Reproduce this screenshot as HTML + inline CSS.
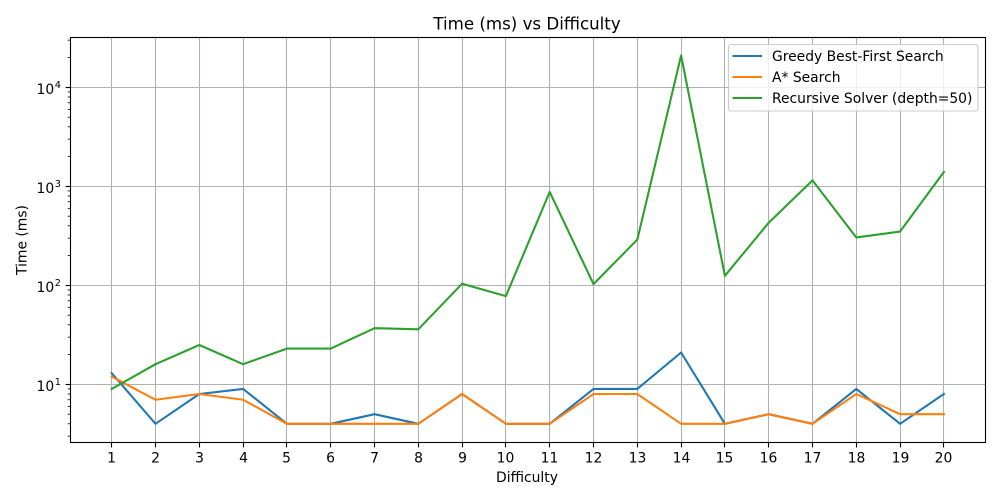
<!DOCTYPE html>
<html lang="en">
<head>
<meta charset="utf-8">
<title>Time (ms) vs Difficulty</title>
<style>
html,body{margin:0;padding:0;background:#fff;width:1000px;height:500px;overflow:hidden}
svg{display:block}
text{font-family:"DejaVu Sans",sans-serif;fill:#000}
</style>
</head>
<body>
<svg id="chart" xmlns="http://www.w3.org/2000/svg" width="1000" height="500" viewBox="0 0 1000 500">
  <rect x="0" y="0" width="1000" height="500" fill="#fff"/>
  <g id="grid"></g>
  <g id="series"></g>
  <g id="ticks"></g>
  <rect x="70.5" y="37.5" width="915" height="405" fill="none" stroke="#000" stroke-width="1.1"/>
  <text x="527" y="29.5" font-size="16.67" text-anchor="middle">Time (ms) vs Difficulty</text>
  <text x="527" y="482" font-size="13.89" text-anchor="middle">Difficulty</text>
  <text x="0" y="0" font-size="13.89" text-anchor="middle" transform="translate(26.5 240) rotate(-90)">Time (ms)</text>
  <g>
    <rect x="728.5" y="44.5" width="249.5" height="66.5" rx="2.8" ry="2.8" fill="#fff" fill-opacity="0.8" stroke="#ccc" stroke-width="1.1"/>
    <line x1="732.5" x2="762" y1="56" y2="56" stroke="#1f77b4" stroke-width="2.08"/>
    <text x="772" y="61" font-size="13.89">Greedy Best-First Search</text>
    <line x1="732.5" x2="762" y1="77" y2="77" stroke="#ff7f0e" stroke-width="2.08"/>
    <text x="772" y="82" font-size="13.89">A* Search</text>
    <line x1="732.5" x2="762" y1="98" y2="98" stroke="#2ca02c" stroke-width="2.08"/>
    <text x="772" y="103" font-size="13.89">Recursive Solver (depth=50)</text>
  </g>
</svg>
<script>
const difficulties = [1,2,3,4,5,6,7,8,9,10,11,12,13,14,15,16,17,18,19,20];
const greedyTimes = [13,4,8,9,4,4,5,4,8,4,4,9,9,21,4,5,4,9,4,8];
const astarTimes = [12,7,8,7,4,4,4,4,8,4,4,8,8,4,4,5,4,8,5,5];
const recursiveTimes = [9,16,25,16,23,23,37,36,104,78,880,103,290,21000,125,430,1150,305,350,1400];
const yTickExponents = [1,2,3,4];

const NS = 'http://www.w3.org/2000/svg';
const plot = {left: 70.5, right: 985.5, top: 37.5, bottom: 442.5};

function xScale(v) {
  const lo = Math.min(...difficulties), hi = Math.max(...difficulties);
  const inner = 832.2;
  const start = plot.left + 41.2;
  return start + (v - lo) / (hi - lo) * inner;
}
function yScale(v) {
  return 384.4 - (Math.log10(v) - 1) * 99;
}
function make(tag, attrs, parent) {
  const el = document.createElementNS(NS, tag);
  for (const k in attrs) el.setAttribute(k, attrs[k]);
  parent.appendChild(el);
  return el;
}

const grid = document.getElementById('grid');
const ticks = document.getElementById('ticks');
const series = document.getElementById('series');
const svg = document.getElementById('chart');

difficulties.forEach(function (d) {
  const x = Math.floor(xScale(d)) + 0.5;
  const g = make('line', {x1: x, x2: x, y1: plot.top, y2: plot.bottom, stroke: '#b0b0b0', 'stroke-width': 1.1}, grid);
  
  
  const t = make('line', {x1: x, x2: x, y1: plot.bottom, y2: plot.bottom + 4.9, stroke: '#000', 'stroke-width': 1.1}, ticks);
  
  
  const label = make('text', {x: x, y: 462.5, 'font-size': 13.89, 'text-anchor': 'middle'}, svg);
  label.textContent = String(d);
  
  
});

yTickExponents.forEach(function (e) {
  const y = Math.round(yScale(Math.pow(10, e)) - 0.5) + 0.5;
  const g = make('line', {x1: plot.left, x2: plot.right, y1: y, y2: y, stroke: '#b0b0b0', 'stroke-width': 1.1}, grid);
  
  
  const t = make('line', {x1: plot.left - 4.9, x2: plot.left, y1: y, y2: y, stroke: '#000', 'stroke-width': 1.1}, ticks);
  
  
  const label = make('text', {x: 36.5, y: y + 6.5, 'font-size': 13.89}, svg);
  
  
  const base = make('tspan', {}, label);
  base.textContent = '10';
  const sup = make('tspan', {dx: 0.6, dy: -6, 'font-size': 9.72}, label);
  sup.textContent = String(e);
});

for (let e = 0; e <= 4; e++) {
  for (let m = 2; m <= 9; m++) {
    const y = yScale(m * Math.pow(10, e));
    if (y < plot.top || y > plot.bottom) continue;
    const t = make('line', {x1: plot.left - 2.8, x2: plot.left, y1: y, y2: y, stroke: '#000', 'stroke-width': 0.83}, ticks);
    
    
  }
}

function drawSeries(values, color) {
  const pts = values.map(function (v, i) {
    return xScale(difficulties[i]).toFixed(2) + ',' + yScale(v).toFixed(2);
  }).join(' ');
  return make('polyline', {points: pts, fill: 'none', stroke: color, 'stroke-width': 2.08, 'stroke-linejoin': 'round', 'stroke-linecap': 'square'}, series);
}

const greedyLine = drawSeries(greedyTimes, '#1f77b4');


const astarLine = drawSeries(astarTimes, '#ff7f0e');


const recursiveLine = drawSeries(recursiveTimes, '#2ca02c');


</script>
</body>
</html>
